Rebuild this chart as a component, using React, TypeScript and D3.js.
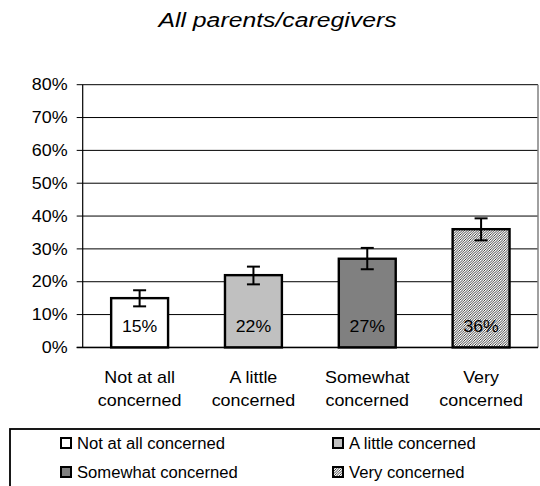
import React from "react";
import * as d3 from "d3";

const categories = ["Not at all concerned", "A little concerned", "Somewhat concerned", "Very concerned"];
const axisLabels = [["Not at all", "concerned"], ["A little", "concerned"], ["Somewhat", "concerned"], ["Very", "concerned"]];
const values = [15, 22, 27, 36];
const errLow = [12.5, 19.2, 23.8, 32.6];
const errHigh = [17.4, 24.6, 30.3, 39.3];
const yTicks = [0, 10, 20, 30, 40, 50, 60, 70, 80];
const fills = ["#ffffff", "#c0c0c0", "#808080", "url(#hatch)"];
const title = "All parents/caregivers";

const W = 540, H = 486;
const left = 82.7, right = 538, top = 84.7, bottom = 347.4;

export default function App() {
  const x = d3.scaleBand<string>().domain(categories).range([left, right]).paddingInner(0.5).paddingOuter(0.25);
  const y = d3.scaleLinear().domain([0, 80]).range([bottom, top]);
  const font = "Arial, 'Liberation Sans', sans-serif";
  const capW = 6.5;
  return (
    <svg width={W} height={H} style={{ position: "absolute", left: 0, top: 0 }} fontFamily={font}>
      <defs>
        <pattern id="hatch" width="2.5" height="2.5" patternUnits="userSpaceOnUse">
          <rect width="2.5" height="2.5" fill="#fff" />
          <path d="M-0.5,0.5 l1,-1 M0,2.5 l2.5,-2.5 M2,3 l1,-1" stroke="#000" strokeWidth="0.75" />
        </pattern>
      </defs>
      <rect width={W} height={H} fill="#fff" />
      <text transform={`translate(${277.5},27) scale(1.18,1)`} textAnchor="middle" fontSize={21} fontStyle="italic">{title}</text>
      {yTicks.map((t) => (
        <g key={t}>
          <line x1={left - 6} x2={right} y1={y(t)} y2={y(t)} stroke="#000" strokeWidth={1} />
          <text transform={`translate(${67.7},${y(t) + 5.7}) scale(1.12,1)`} textAnchor="end" fontSize={16}>{t + "%"}</text>
        </g>
      ))}
      <line x1={right} x2={right} y1={top} y2={bottom} stroke="#808080" strokeWidth={1.5} />
      <line x1={left} x2={left} y1={top} y2={bottom} stroke="#000" strokeWidth={1.2} />
      {categories.map((c, i) => {
        const bx = x(c)!;
        const bw = x.bandwidth();
        const cx = bx + bw / 2;
        return (
          <g key={c}>
            <rect x={bx} y={y(values[i])} width={bw} height={y(0) - y(values[i])} fill={fills[i]} stroke="#000" strokeWidth={2.4} />
            <text transform={`translate(${cx},${y(0) - 15}) scale(1.04,1)`} textAnchor="middle" fontSize={17} fill="#000">{values[i] + "%"}</text>
            <g stroke="#000" strokeWidth={2}>
              <line x1={cx} x2={cx} y1={y(errLow[i])} y2={y(errHigh[i])} />
              <line x1={cx - capW} x2={cx + capW} y1={y(errLow[i])} y2={y(errLow[i])} />
              <line x1={cx - capW} x2={cx + capW} y1={y(errHigh[i])} y2={y(errHigh[i])} />
            </g>
            {axisLabels[i].map((l, j) => (
              <text key={j} transform={`translate(${cx},${383 + j * 23}) scale(1.12,1)`} textAnchor="middle" fontSize={16}>{l}</text>
            ))}
          </g>
        );
      })}
      <line x1={left - 6} x2={right} y1={bottom} y2={bottom} stroke="#000" strokeWidth={1.5} />
      <rect x={10} y={429} width={W + 20} height={100} fill="none" stroke="#000" strokeWidth={1.8} />
      {categories.map((c, i) => {
        const lx = i % 2 === 0 ? 61 : 333;
        const ly = i < 2 ? 443 : 472;
        return (
          <g key={c}>
            <rect x={lx} y={ly - 5} width={10} height={10} fill={fills[i]} stroke="#000" strokeWidth={2} />
            <text transform={`translate(${lx + 16},${ly + 5.5}) scale(1.04,1)`} fontSize={16}>{c}</text>
          </g>
        );
      })}
    </svg>
  );
}
